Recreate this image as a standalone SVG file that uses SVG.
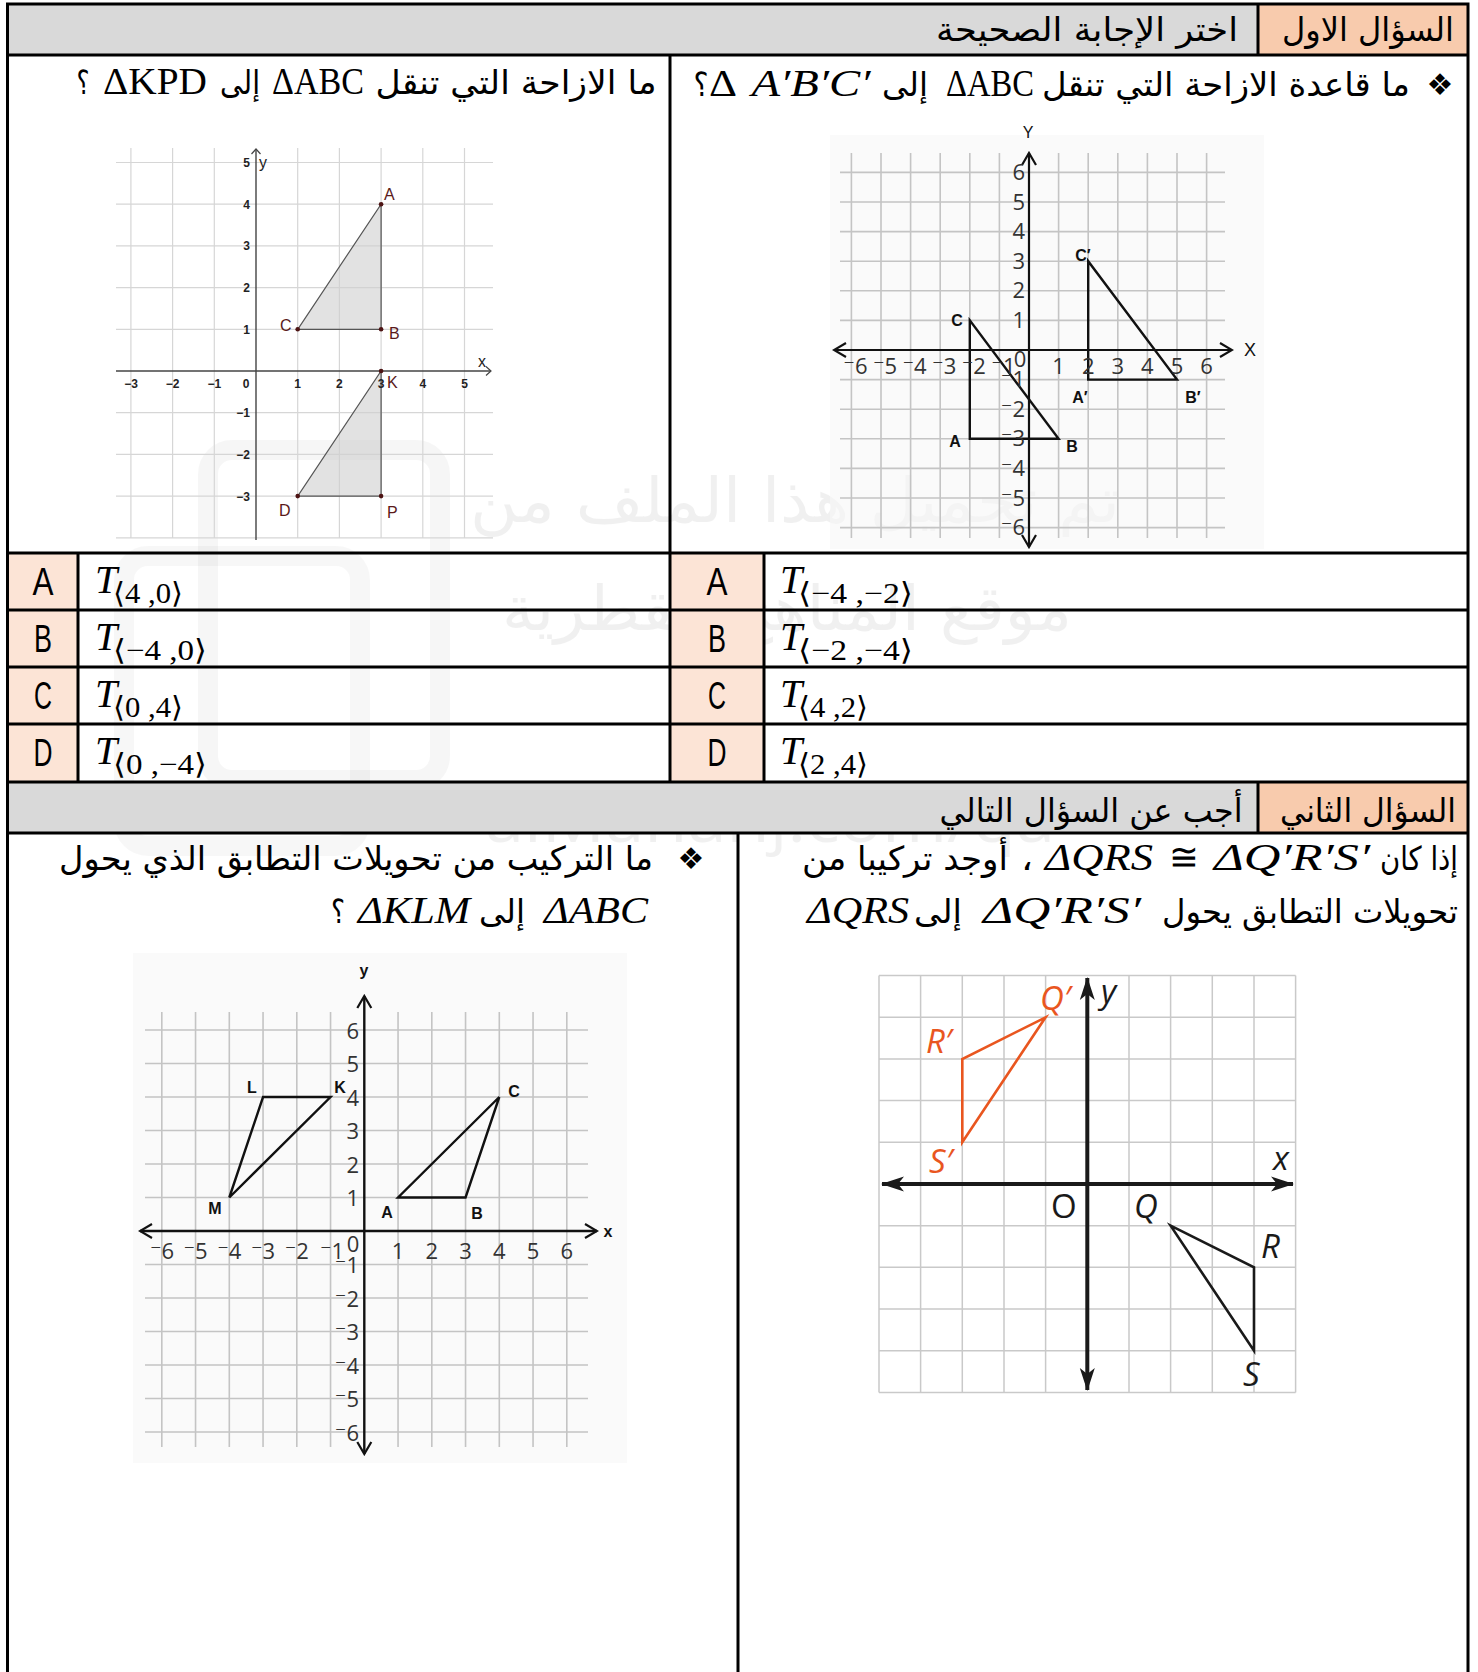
<svg xmlns="http://www.w3.org/2000/svg" width="1478" height="1672" viewBox="0 0 1478 1672">
<defs>
<style>
.ar{font-family:"DejaVu Sans",sans-serif;font-size:33px;fill:#000;text-anchor:middle}
.m{font-family:"Liberation Serif",serif;font-size:38px;fill:#000;text-anchor:middle}
.mi{font-family:"Liberation Serif",serif;font-size:38px;font-style:italic;fill:#000;text-anchor:middle}
.bul{font-family:"DejaVu Sans",sans-serif;font-size:30px;fill:#000;text-anchor:middle}
.let{font-family:"Liberation Sans",Arial,sans-serif;font-size:38px;fill:#000;text-anchor:middle}
.T{font-family:"Liberation Serif",serif;font-size:40px;font-style:italic;fill:#000}
.sub{font-family:"Liberation Serif","DejaVu Serif",serif;font-size:29px;fill:#000}
.ln{stroke:#000;stroke-width:3;fill:none}
.g1{stroke:#d6d6d6;stroke-width:1.2;fill:none}
.g2{stroke:#c4c4c4;stroke-width:1.6;fill:none}
.g3{stroke:#c9c9c9;stroke-width:1.5;fill:none}
.t1{font-family:"Liberation Sans",Arial,sans-serif;font-size:12px;font-weight:bold;fill:#222}
.t2{font-family:"Open Sans","DejaVu Sans",sans-serif;font-size:22px;fill:#333}
.pl{font-family:"Liberation Sans",Arial,sans-serif;font-size:16px;fill:#5a1a1a}
.bl{font-family:"Liberation Sans",Arial,sans-serif;font-size:16px;font-weight:bold;fill:#111;text-anchor:middle}
.it{font-family:"Open Sans","DejaVu Sans",sans-serif;font-size:33px;font-style:italic}
.wm{fill:#000;opacity:0.055}
</style>
<marker id="chevS" viewBox="-8 -6 10 12" markerWidth="10" markerHeight="12" refX="0" refY="0" orient="auto-start-reverse" markerUnits="userSpaceOnUse">
<path d="M-5,-4.5 L0,0 L-5,4.5" fill="none" stroke="#444" stroke-width="1.2"/>
</marker>
<marker id="chevM" viewBox="-14 -9 16 18" markerWidth="16" markerHeight="18" refX="0" refY="0" orient="auto-start-reverse" markerUnits="userSpaceOnUse">
<path d="M-12,-7 L0,0 L-12,7" fill="none" stroke="#111" stroke-width="2.2"/>
</marker>
<marker id="arrF" viewBox="-24 -9 26 18" markerWidth="26" markerHeight="18" refX="0" refY="0" orient="auto-start-reverse" markerUnits="userSpaceOnUse">
<path d="M1,0 L-22,-7.5 L-16,0 L-22,7.5 Z" fill="#1a1a1a"/>
</marker>
</defs>

<g id="watermark">
<rect x="208" y="450" width="232" height="330" rx="24" fill="none" stroke="#000" stroke-width="20" opacity="0.035"/>
<rect x="124" y="556" width="236" height="290" rx="24" fill="none" stroke="#000" stroke-width="20" opacity="0.03"/>
<text class="wm" x="795" y="522" font-family="DejaVu Sans,sans-serif" font-size="62" text-anchor="middle" textLength="650" lengthAdjust="spacingAndGlyphs">تم تحميل هذا الملف من</text>
<text class="wm" x="787" y="630" font-family="DejaVu Sans,sans-serif" font-size="62" text-anchor="middle" textLength="570" lengthAdjust="spacingAndGlyphs">موقع المناهج القطرية</text>
<text class="wm" x="770" y="842" font-family="Open Sans,sans-serif" font-size="64" text-anchor="middle" textLength="570" lengthAdjust="spacingAndGlyphs">alManahj.com/qa</text>
</g>

<g id="table">
<rect x="7.5" y="4" width="1460.5" height="51" fill="#D9D9D9"/>
<rect x="1258" y="4" width="210" height="51" fill="#F8CBAD"/>
<rect x="7.5" y="782" width="1460.5" height="51" fill="#D9D9D9"/>
<rect x="1258" y="782" width="210" height="51" fill="#F8CBAD"/>
<rect x="7.5" y="553" width="70.5" height="229" fill="#FCE4D6"/>
<rect x="670" y="553" width="94" height="229" fill="#FCE4D6"/>
<path class="ln" d="M7.5,2.5 V1672 M1468,2.5 V1672 M6,4 H1469.5 M6,55 H1469.5 M6,553 H1469.5 M6,610 H1469.5 M6,667 H1469.5 M6,724 H1469.5 M6,782 H1469.5 M6,833 H1469.5 M670,55 V782 M78,553 V782 M764,553 V782 M1258,4 V55 M1258,782 V833 M738,833 V1672"/>
</g>

<g id="header1">
<text class="ar" x="1368" y="41" textLength="172" lengthAdjust="spacingAndGlyphs">السؤال الاول</text>
<text class="ar" x="1087" y="41" textLength="302" lengthAdjust="spacingAndGlyphs">اختر الإجابة الصحيحة</text>
</g>

<g id="q1-right">
<text class="bul" x="1440" y="95">❖</text>
<text class="ar" x="1226" y="96" textLength="368" lengthAdjust="spacingAndGlyphs">ما قاعدة الازاحة التي تنقل</text>
<text class="m" x="990" y="96" textLength="88" lengthAdjust="spacingAndGlyphs">ΔABC</text>
<text class="ar" x="905" y="96" textLength="46" lengthAdjust="spacingAndGlyphs">إلى</text>
<text class="mi" x="811" y="96" textLength="119" lengthAdjust="spacingAndGlyphs">A′B′C′</text>
<text class="m" x="723" y="96" textLength="28" lengthAdjust="spacingAndGlyphs">Δ</text>
<text class="ar" x="701" y="96" textLength="15" lengthAdjust="spacingAndGlyphs">؟</text>
</g>

<g id="q1-left">
<text class="ar" x="516" y="94" textLength="281" lengthAdjust="spacingAndGlyphs">ما الازاحة التي تنقل</text>
<text class="m" x="318" y="94" textLength="92" lengthAdjust="spacingAndGlyphs">ΔABC</text>
<text class="ar" x="240" y="94" textLength="40" lengthAdjust="spacingAndGlyphs">إلى</text>
<text class="m" x="155" y="94" textLength="104" lengthAdjust="spacingAndGlyphs">ΔKPD</text>
<text class="ar" x="83" y="94" textLength="13" lengthAdjust="spacingAndGlyphs">؟</text>
</g>

<g id="graph-kpd">
<path class="g1" d="M130.9,148 V538 M172.6,148 V538 M214.3,148 V538 M297.7,148 V538 M339.4,148 V538 M381.1,148 V538 M422.8,148 V538 M464.5,148 V538 M116,162.5 H493 M116,204.2 H493 M116,245.9 H493 M116,287.6 H493 M116,329.3 H493 M116,412.7 H493 M116,454.4 H493 M116,496.1 H493 M116,537.8 H493"/>
<path d="M116,371 H491" stroke="#444" stroke-width="1.4" marker-end="url(#chevS)"/>
<path d="M256,540 V149" stroke="#444" stroke-width="1.4" marker-end="url(#chevS)"/>
<polygon points="381.1,204.2 381.1,329.3 297.7,329.3" fill="#cfcfcf" fill-opacity="0.6" stroke="#555" stroke-width="1.2"/>
<polygon points="381.1,371 381.1,496.1 297.7,496.1" fill="#cfcfcf" fill-opacity="0.6" stroke="#555" stroke-width="1.2"/>
<g fill="#4d1414">
<circle cx="381.1" cy="204.2" r="2.3"/><circle cx="381.1" cy="329.3" r="2.3"/><circle cx="297.7" cy="329.3" r="2.3"/>
<circle cx="381.1" cy="371" r="2.3"/><circle cx="381.1" cy="496.1" r="2.3"/><circle cx="297.7" cy="496.1" r="2.3"/>
</g>
<g class="t1" text-anchor="middle">
<text x="131" y="388">−3</text><text x="172.6" y="388">−2</text><text x="214.3" y="388">−1</text><text x="246" y="388">0</text>
<text x="297.7" y="388">1</text><text x="339.4" y="388">2</text><text x="381.1" y="388">3</text><text x="422.8" y="388">4</text><text x="464.5" y="388">5</text>
</g>
<g class="t1" text-anchor="end">
<text x="250" y="167">5</text><text x="250" y="208.5">4</text><text x="250" y="250">3</text><text x="250" y="292">2</text><text x="250" y="333.5">1</text>
<text x="250" y="417">−1</text><text x="250" y="458.5">−2</text><text x="250" y="500.5">−3</text>
</g>
<text x="259" y="168" font-family="Liberation Sans,Arial,sans-serif" font-size="16" fill="#222">y</text>
<text x="478" y="367" font-family="Liberation Sans,Arial,sans-serif" font-size="16" fill="#222">x</text>
<g class="pl">
<text x="384" y="200">A</text><text x="389" y="339">B</text><text x="280" y="331">C</text>
<text x="387" y="388">K</text><text x="387" y="518">P</text><text x="279" y="516">D</text>
</g>
</g>

<g id="graph-abc1">
<rect x="830" y="135" width="434" height="414" fill="#f6f6f6" opacity="0.6"/>
<path class="g2" d="M851.4,153 V538 M881,153 V538 M910.6,153 V538 M940.2,153 V538 M969.8,153 V538 M999.4,153 V538 M1058.6,153 V538 M1088.2,153 V538 M1117.8,153 V538 M1147.4,153 V538 M1177,153 V538 M1206.6,153 V538 M840,172.4 H1225 M840,202 H1225 M840,231.6 H1225 M840,261.2 H1225 M840,290.8 H1225 M840,320.4 H1225 M840,379.6 H1225 M840,409.2 H1225 M840,438.8 H1225 M840,468.4 H1225 M840,498 H1225 M840,527.6 H1225"/>
<path d="M834,350 H1232" stroke="#111" stroke-width="2.2" marker-start="url(#chevM)" marker-end="url(#chevM)"/>
<path d="M1029,153 V547" stroke="#111" stroke-width="2.2" marker-start="url(#chevM)" marker-end="url(#chevM)"/>
<polygon points="969.8,320.4 969.8,438.8 1058.6,438.8" fill="none" stroke="#111" stroke-width="2.4"/>
<polygon points="1088.2,261.2 1088.2,379.6 1177,379.6" fill="none" stroke="#111" stroke-width="2.4"/>
<g class="t2" text-anchor="middle">
<text x="855.4" y="374">⁻6</text><text x="885" y="374">⁻5</text><text x="914.6" y="374">⁻4</text><text x="944.2" y="374">⁻3</text><text x="973.8" y="374">⁻2</text><text x="1003.4" y="374">⁻1</text>
<text x="1020" y="367">0</text>
<text x="1058.6" y="374">1</text><text x="1088.2" y="374">2</text><text x="1117.8" y="374">3</text><text x="1147.4" y="374">4</text><text x="1177" y="374">5</text><text x="1206.6" y="374">6</text>
</g>
<g class="t2" text-anchor="end">
<text x="1025" y="180">6</text><text x="1025" y="209.5">5</text><text x="1025" y="239">4</text><text x="1025" y="268.7">3</text><text x="1025" y="298.3">2</text><text x="1025" y="328">1</text>
<text x="1025" y="387">⁻1</text><text x="1025" y="416.7">⁻2</text><text x="1025" y="446.3">⁻3</text><text x="1025" y="476">⁻4</text><text x="1025" y="505.5">⁻5</text><text x="1025" y="535">⁻6</text>
</g>
<text x="1250" y="356" font-family="Liberation Sans,Arial,sans-serif" font-size="18" fill="#111" text-anchor="middle">X</text>
<text x="1028" y="138" font-family="Liberation Sans,Arial,sans-serif" font-size="16" fill="#111" text-anchor="middle">Y</text>
<g class="bl">
<text x="957" y="326">C</text><text x="955" y="447">A</text><text x="1072" y="452">B</text>
<text x="1083" y="261">C′</text><text x="1080" y="403">A′</text><text x="1193" y="403">B′</text>
</g>
</g>

<g id="answers">
<text class="let" x="43" y="595" textLength="21" lengthAdjust="spacingAndGlyphs">A</text>
<text class="let" x="43" y="652" textLength="18" lengthAdjust="spacingAndGlyphs">B</text>
<text class="let" x="43" y="709" textLength="18" lengthAdjust="spacingAndGlyphs">C</text>
<text class="let" x="43" y="766" textLength="19" lengthAdjust="spacingAndGlyphs">D</text>
<text class="T" x="95" y="593">T</text><text class="sub" x="113" y="603" textLength="70" lengthAdjust="spacingAndGlyphs">⟨4 ,0⟩</text>
<text class="T" x="95" y="650">T</text><text class="sub" x="113" y="660" textLength="94" lengthAdjust="spacingAndGlyphs">⟨−4 ,0⟩</text>
<text class="T" x="95" y="707">T</text><text class="sub" x="113" y="717" textLength="70" lengthAdjust="spacingAndGlyphs">⟨0 ,4⟩</text>
<text class="T" x="95" y="764">T</text><text class="sub" x="113" y="774" textLength="94" lengthAdjust="spacingAndGlyphs">⟨0 ,−4⟩</text>
<text class="let" x="717" y="595" textLength="21" lengthAdjust="spacingAndGlyphs">A</text>
<text class="let" x="717" y="652" textLength="18" lengthAdjust="spacingAndGlyphs">B</text>
<text class="let" x="717" y="709" textLength="18" lengthAdjust="spacingAndGlyphs">C</text>
<text class="let" x="717" y="766" textLength="19" lengthAdjust="spacingAndGlyphs">D</text>
<text class="T" x="780" y="593">T</text><text class="sub" x="798" y="603" textLength="115" lengthAdjust="spacingAndGlyphs">⟨−4 ,−2⟩</text>
<text class="T" x="780" y="650">T</text><text class="sub" x="798" y="660" textLength="115" lengthAdjust="spacingAndGlyphs">⟨−2 ,−4⟩</text>
<text class="T" x="780" y="707">T</text><text class="sub" x="798" y="717" textLength="70" lengthAdjust="spacingAndGlyphs">⟨4 ,2⟩</text>
<text class="T" x="780" y="764">T</text><text class="sub" x="798" y="774" textLength="70" lengthAdjust="spacingAndGlyphs">⟨2 ,4⟩</text>
</g>

<g id="header2">
<text class="ar" x="1368" y="822" textLength="176" lengthAdjust="spacingAndGlyphs">السؤال الثاني</text>
<text class="ar" x="1091" y="822" textLength="303" lengthAdjust="spacingAndGlyphs">أجب عن السؤال التالي</text>
</g>

<g id="q2-right">
<text class="ar" x="1419" y="870" textLength="78" lengthAdjust="spacingAndGlyphs">إذا كان</text>
<text class="mi" x="1292" y="870" textLength="156" lengthAdjust="spacingAndGlyphs">ΔQ′R′S′</text>
<text class="m" x="1184" y="870" textLength="30" lengthAdjust="spacingAndGlyphs">≅</text>
<text class="mi" x="1099" y="870" textLength="108" lengthAdjust="spacingAndGlyphs">ΔQRS</text>
<text class="ar" x="1027" y="870" textLength="12" lengthAdjust="spacingAndGlyphs">،</text>
<text class="ar" x="905" y="870" textLength="206" lengthAdjust="spacingAndGlyphs">أوجد تركيبا من</text>
<text class="ar" x="1310" y="923" textLength="296" lengthAdjust="spacingAndGlyphs">تحويلات التطابق يحول</text>
<text class="mi" x="1062" y="923" textLength="158" lengthAdjust="spacingAndGlyphs">ΔQ′R′S′</text>
<text class="ar" x="938" y="923" textLength="48" lengthAdjust="spacingAndGlyphs">إلى</text>
<text class="mi" x="858" y="923" textLength="102" lengthAdjust="spacingAndGlyphs">ΔQRS</text>
</g>

<g id="q2-left">
<text class="bul" x="691" y="869">❖</text>
<text class="ar" x="356" y="870" textLength="594" lengthAdjust="spacingAndGlyphs">ما التركيب من تحويلات التطابق الذي يحول</text>
<text class="mi" x="596" y="923" textLength="104" lengthAdjust="spacingAndGlyphs">ΔABC</text>
<text class="ar" x="502" y="923" textLength="46" lengthAdjust="spacingAndGlyphs">إلى</text>
<text class="mi" x="414" y="923" textLength="112" lengthAdjust="spacingAndGlyphs">ΔKLM</text>
<text class="ar" x="338" y="923" textLength="14" lengthAdjust="spacingAndGlyphs">؟</text>
</g>

<g id="graph-klm">
<rect x="133" y="953" width="494" height="510" fill="#f6f6f6" opacity="0.6"/>
<path class="g2" d="M161.8,1012 V1447 M195.55,1012 V1447 M229.3,1012 V1447 M263.05,1012 V1447 M296.8,1012 V1447 M330.55,1012 V1447 M398.05,1012 V1447 M431.8,1012 V1447 M465.55,1012 V1447 M499.3,1012 V1447 M533.05,1012 V1447 M566.8,1012 V1447 M145,1030 H588 M145,1063.5 H588 M145,1097 H588 M145,1130.5 H588 M145,1164 H588 M145,1197.5 H588 M145,1264.5 H588 M145,1298 H588 M145,1331.5 H588 M145,1365 H588 M145,1398.5 H588 M145,1432 H588"/>
<path d="M140,1231 H597" stroke="#111" stroke-width="2.4" marker-start="url(#chevM)" marker-end="url(#chevM)"/>
<path d="M364.3,996 V1454" stroke="#111" stroke-width="2.4" marker-start="url(#chevM)" marker-end="url(#chevM)"/>
<polygon points="330.55,1097 263.05,1097 229.3,1197.5" fill="none" stroke="#111" stroke-width="2.4"/>
<polygon points="398.05,1197.5 465.55,1197.5 499.3,1097" fill="none" stroke="#111" stroke-width="2.4"/>
<g class="t2" text-anchor="middle" font-size="24">
<text x="162" y="1259">⁻6</text><text x="195.5" y="1259">⁻5</text><text x="229.3" y="1259">⁻4</text><text x="263" y="1259">⁻3</text><text x="296.8" y="1259">⁻2</text><text x="332" y="1259">⁻1</text>
<text x="353" y="1252">0</text>
<text x="398" y="1259">1</text><text x="431.8" y="1259">2</text><text x="465.5" y="1259">3</text><text x="499.3" y="1259">4</text><text x="533" y="1259">5</text><text x="566.8" y="1259">6</text>
</g>
<g class="t2" text-anchor="end" font-size="24">
<text x="359" y="1038.5">6</text><text x="359" y="1072">5</text><text x="359" y="1105.5">4</text><text x="359" y="1139">3</text><text x="359" y="1172.5">2</text><text x="359" y="1206">1</text>
<text x="359" y="1273">⁻1</text><text x="359" y="1306.5">⁻2</text><text x="359" y="1340">⁻3</text><text x="359" y="1373.5">⁻4</text><text x="359" y="1407">⁻5</text><text x="359" y="1440.5">⁻6</text>
</g>
<text x="608" y="1237" class="bl" font-size="18">x</text>
<text x="364" y="976" class="bl" font-size="18">y</text>
<g class="bl" font-size="17">
<text x="252" y="1093">L</text><text x="340" y="1093">K</text><text x="514" y="1097">C</text>
<text x="215" y="1214">M</text><text x="387" y="1218">A</text><text x="477" y="1219">B</text>
</g>
</g>

<g id="graph-qrs">
<path class="g3" d="M879,975.6 V1392.4 M920.6,975.6 V1392.4 M962.3,975.6 V1392.4 M1004,975.6 V1392.4 M1045.6,975.6 V1392.4 M1129,975.6 V1392.4 M1170.6,975.6 V1392.4 M1212.3,975.6 V1392.4 M1254,975.6 V1392.4 M1295.6,975.6 V1392.4 M879,975.6 H1295.6 M879,1017.3 H1295.6 M879,1059 H1295.6 M879,1100.6 H1295.6 M879,1142.3 H1295.6 M879,1225.7 H1295.6 M879,1267.3 H1295.6 M879,1309 H1295.6 M879,1350.7 H1295.6 M879,1392.4 H1295.6"/>
<path d="M882,1184 H1293" stroke="#1a1a1a" stroke-width="4" marker-start="url(#arrF)" marker-end="url(#arrF)"/>
<path d="M1087.3,978 V1390" stroke="#1a1a1a" stroke-width="4" marker-start="url(#arrF)" marker-end="url(#arrF)"/>
<polygon points="1045.6,1017.3 962.3,1059 962.3,1142.3" fill="none" stroke="#E9561F" stroke-width="2.6"/>
<polygon points="1170.6,1225.7 1254,1267.3 1254,1350.7" fill="none" stroke="#1a1a1a" stroke-width="2.6"/>
<g class="it" fill="#E9561F">
<text x="1040" y="1010">Q′</text><text x="926" y="1053">R′</text><text x="929" y="1173">S′</text>
</g>
<g class="it" fill="#1a1a1a">
<text x="1134" y="1218">Q</text><text x="1261" y="1258">R</text><text x="1243" y="1386">S</text>
<text x="1273" y="1170">x</text><text x="1101" y="1003">y</text>
</g>
<text x="1051" y="1218" font-family="Open Sans,DejaVu Sans,sans-serif" font-size="33" fill="#1a1a1a">O</text>
</g>
</svg>
